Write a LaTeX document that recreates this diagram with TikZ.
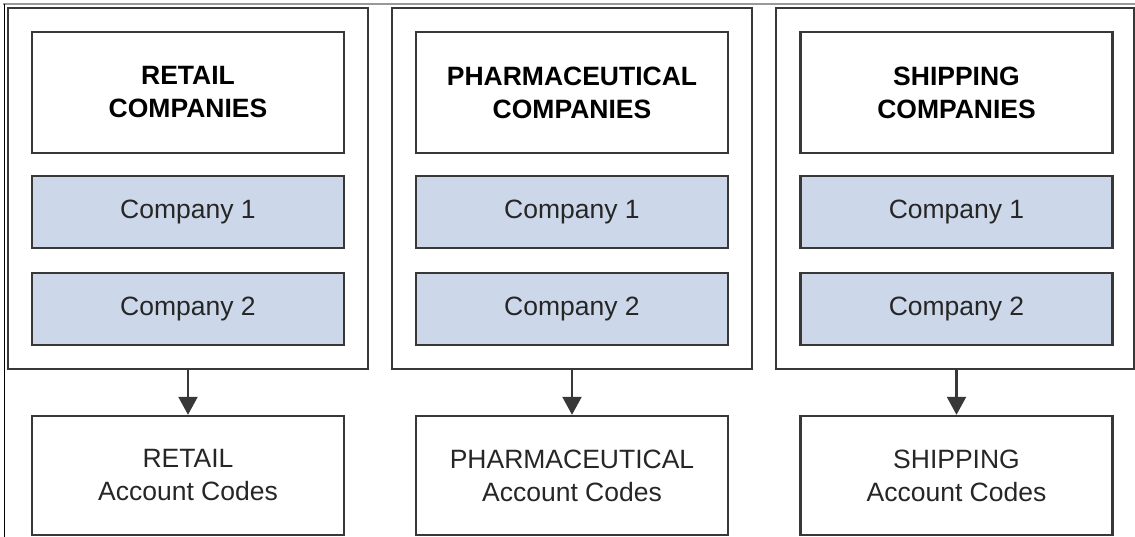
\documentclass[tikz,border=0pt]{standalone}
\usepackage{fontspec}
\setmainfont{Liberation Sans}
\usetikzlibrary{arrows.meta}
\definecolor{edge}{HTML}{383838}
\definecolor{compfill}{HTML}{CCD8EA}
\definecolor{txt}{HTML}{262626}
\tikzset{
  outerbox/.style={draw=edge, line width=2.4pt, minimum width=360pt, minimum height=361pt, inner sep=0pt},
  titlebox/.style={draw=edge, line width=2.4pt, minimum width=312pt, minimum height=121pt, align=center, inner sep=0pt,
    font=\fontsize{26.5}{33}\selectfont\bfseries, text=black},
  compbox/.style={draw=edge, line width=2.4pt, fill=compfill, minimum width=312pt, minimum height=72pt, inner sep=0pt,
    font=\fontsize{26.5}{33}\selectfont, text=txt},
  codebox/.style={draw=edge, line width=2.4pt, minimum width=312pt, minimum height=119pt, align=center, inner sep=0pt,
    font=\fontsize{26.5}{33}\selectfont, text=txt},
  link/.style={draw=edge, line width=2.2pt, -{Triangle[width=19pt,length=18pt]}}
}
\begin{document}
\begin{tikzpicture}[x=1pt,y=-1pt]
\useasboundingbox (0,0) rectangle (1135,537);
\fill[white] (0,0) rectangle (1135,537);
% frame lines of the crop
\draw[gray!80, line width=1.2pt] (3,4) -- (1135,4);
\draw[black, line width=1pt] (4,4) -- (4,537);
% column 1
\node[outerbox] (o1) at (188,188.5) {};
\node[titlebox] (t1) at (188,92.5) {RETAIL\\COMPANIES};
\node[compbox] (c11) at (188,212) {Company 1};
\node[compbox] (c12) at (188,309) {Company 2};
\node[codebox] (a1) at (188,475.5) {RETAIL\\Account Codes};
% column 2
\node[outerbox] (o2) at (572,188.5) {};
\node[titlebox] (t2) at (572,92.5) {PHARMACEUTICAL\\COMPANIES};
\node[compbox] (c21) at (572,212) {Company 1};
\node[compbox] (c22) at (572,309) {Company 2};
\node[codebox] (a2) at (572,475.5) {PHARMACEUTICAL\\Account Codes};
% column 3
\node[outerbox, minimum width=358pt] (o3) at (955,188.5) {};
\node[titlebox] (t3) at (956.5,92.5) {SHIPPING\\COMPANIES};
\node[compbox] (c31) at (956.5,212) {Company 1};
\node[compbox] (c32) at (956.5,309) {Company 2};
\node[codebox] (a3) at (956.5,475.5) {SHIPPING\\Account Codes};
% arrows
\draw[link] (o1.south) -- (a1.north);
\draw[link] (o2.south) -- (a2.north);
\draw[link] (o3.south -| a3.north) -- (a3.north);
\end{tikzpicture}
\end{document}
